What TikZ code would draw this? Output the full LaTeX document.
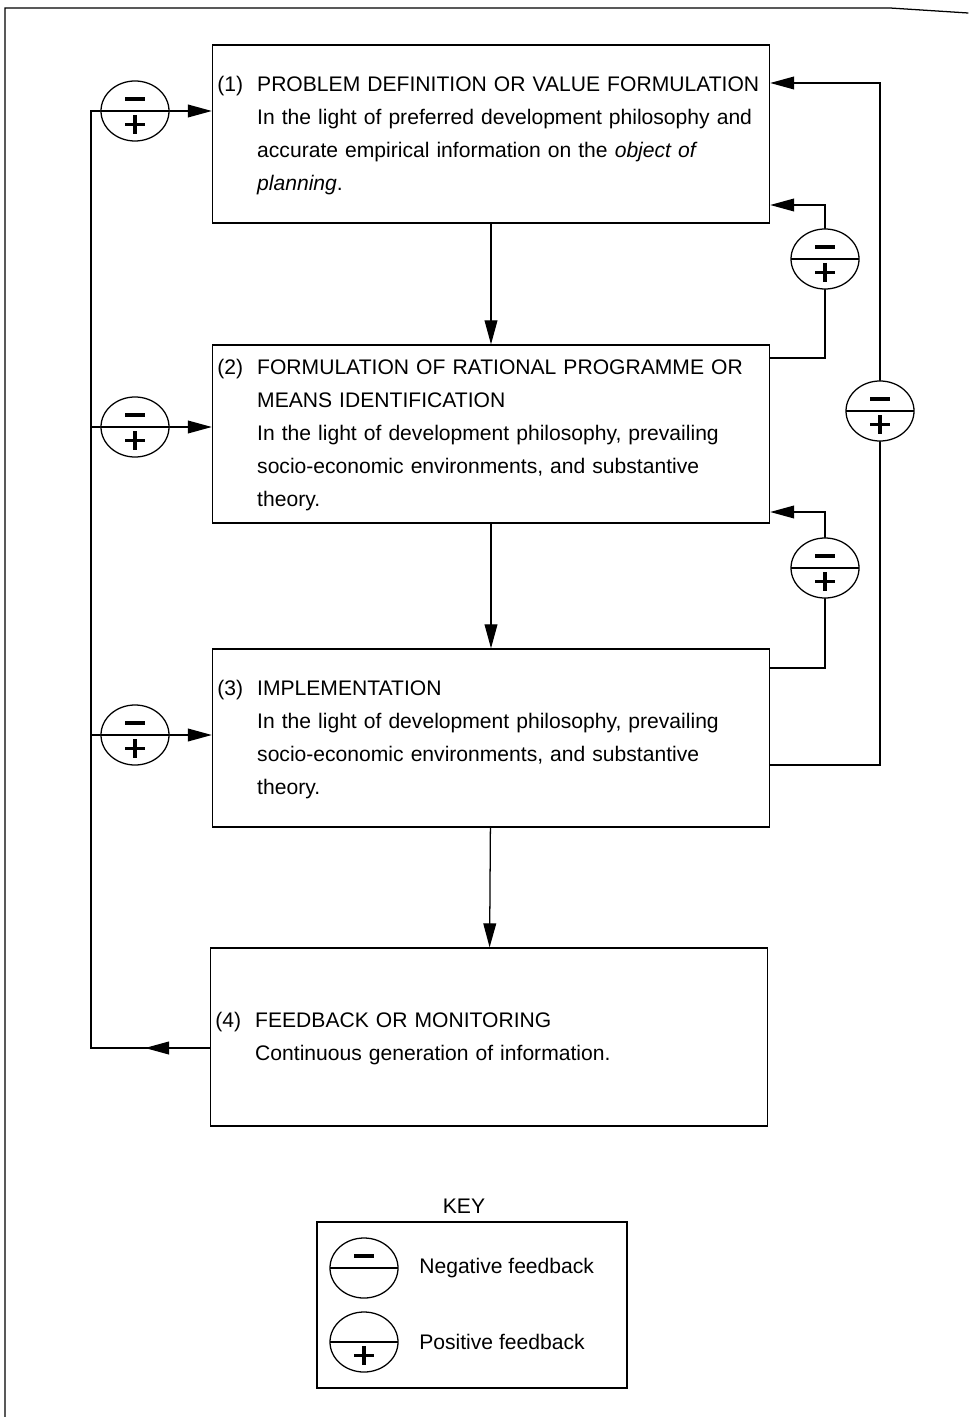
\documentclass[tikz,border=0pt]{standalone}
\usepackage{fontspec}
\setmainfont{Liberation Sans}
\usetikzlibrary{arrows.meta,shapes.geometric}

\def\boxw{13.925cm}
\def\boxh{4.45cm}
\def\ppc{path picture bounding box}

% signs inside the feedback circles
\newcommand\fbline{\draw (\ppc.west) -- (\ppc.east);}
\newcommand\fbminus{\draw[line width=2.4pt, line cap=butt] ([shift={(-0.24cm,0.3cm)}]\ppc.center) -- ++(0.48cm,0);}
\newcommand\fbplus{\draw[line width=2.4pt, line cap=butt] ([shift={(-0.24cm,-0.33cm)}]\ppc.center) -- ++(0.48cm,0);
  \draw[line width=2.4pt, line cap=butt] ([shift={(0,-0.1cm)}]\ppc.center) -- ++(0,-0.48cm);}

\begin{document}
\begin{tikzpicture}[x=0.025cm, y=-0.025cm,
                    >={Triangle[length=0.6cm,width=0.32cm]}, line cap=round,
                    line width=0.9pt,
                    every node/.style={font=\fontsize{15}{23.5}\selectfont},
                    stage/.style={draw, rectangle, minimum width=\boxw, minimum height=\boxh,
                                  inner xsep=0.125cm, text width=13.675cm, align=left},
                    fbbase/.style={draw, ellipse, minimum width=1.7cm, minimum height=1.5cm, inner sep=0pt},
                    fb/.style={fbbase, path picture={\fbline\fbminus\fbplus}},
                    fbneg/.style={fbbase, path picture={\fbline\fbminus}},
                    fbpos/.style={fbbase, path picture={\fbline\fbplus}}
                   ]
\useasboundingbox (0,0) rectangle (970,1417);
\draw (5,1417) -- (5,8) -- (890,8) -- (968,13);

% stages
\node[stage] (b1) at (491,134) {\begin{tabular}{@{}l@{\hspace{0.35cm}}l@{}}
(1) & PROBLEM DEFINITION OR VALUE FORMULATION\\
    & In the light of preferred development philosophy and\\
    & accurate empirical information on the \textit{object of}\\
    & \textit{planning}.
\end{tabular}};
\node[stage] (b2) at (491,434) {\begin{tabular}{@{}l@{\hspace{0.35cm}}l@{}}
(2) & FORMULATION OF RATIONAL PROGRAMME OR\\
    & MEANS IDENTIFICATION\\
    & In the light of development philosophy, prevailing\\
    & socio-economic environments, and substantive\\
    & theory.
\end{tabular}};
\node[stage] (b3) at (491,738) {\begin{tabular}{@{}l@{\hspace{0.35cm}}l@{}}
(3) & IMPLEMENTATION\\
    & In the light of development philosophy, prevailing\\
    & socio-economic environments, and substantive\\
    & theory.
\end{tabular}};
\node[stage] (b4) at (489,1037) {\begin{tabular}{@{}l@{\hspace{0.35cm}}l@{}}
(4) & FEEDBACK OR MONITORING\\
    & Continuous generation of information.
\end{tabular}};

\draw[->] (b1) -- (b2);
\draw[->] (b2) -- (b3);
\draw[->] (b3) -- (b4);

% left loop
\node[fb] (f1) at (135,111) {};
\node[fb] (f2) at (135,427) {};
\node[fb] (f3) at (135,735) {};
\coordinate (lb) at (91,1048);
\coordinate (lt) at (91,111);
\draw[->] (b4.west |- lb) -- (145,1048);
\draw (b4.west |- lb) -- (lb) -- (lt) -- (f1.west);
\draw (lt |- f2) -- (f2.west);
\draw (lt |- f3) -- (f3.west);
\draw[->] (f1.east) -- (f1 -| b1.west);
\draw[->] (f2.east) -- (f2 -| b2.west);
\draw[->] (f3.east) -- (f3 -| b3.west);

% right loops
\node[fb] (r1) at (825,259) {};
\node[fb] (r2) at (825,568) {};
\node[fb] (r3) at (880,411) {};
\draw (b2.east |- 0,358) -- (825,358) -- (r1.south);
\draw[->] (r1.north) -- (825,205) -- (b1.east |- 0,205);
\draw (b3.east |- 0,668) -- (825,668) -- (r2.south);
\draw[->] (r2.north) -- (825,512) -- (b2.east |- 0,512);
\draw (b3.east |- 0,765) -- (880,765) -- (r3.south);
\draw[->] (r3.north) -- (880,83) -- (b1.east |- 0,83);

% key
\node (keyttl) at (464,1206) {KEY};
\node[draw, minimum width=7.75cm, minimum height=4.15cm] (keybox) at (472,1305) {};
\node[fbneg] (k1) at (364,1268) {};
\node[fbpos] (k2) at (364,1342) {};
\node[anchor=west] (negtxt) at (414,1268) {Negative feedback};
\node[anchor=west] (postxt) at (414,1342) {Positive feedback};
\end{tikzpicture}
\end{document}
